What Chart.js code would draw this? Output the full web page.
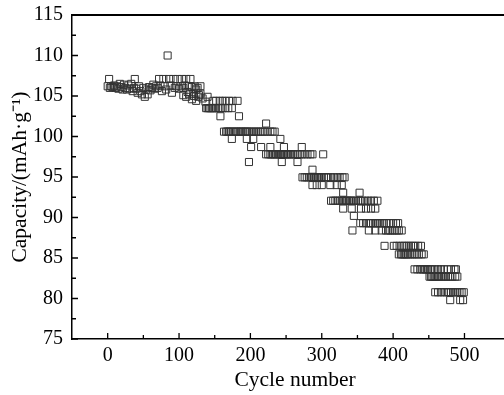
<!DOCTYPE html>
<html>
<head>
<meta charset="utf-8">
<script src="https://cdn.jsdelivr.net/npm/chart.js@4/dist/chart.umd.min.js"></script>
<style>
html,body{margin:0;padding:0;background:#fff;overflow:hidden;}
#wrap{width:524px;height:395px;}
</style>
</head>
<body>
<div id="wrap"><canvas id="c" width="524" height="395"></canvas></div>
<script>
// Cycle numbers and discharge capacities (mAh/g)
const cycle = [
  0,2,3,5,7,9,11,13,15,17,19,21,23,25,27,29,31,33,35,37,38,40,42,44,46,48,50,52,54,56,58,60,62,64,66,68,70,72,74,76,78,80,82,84,86,88,90,92,94,96,98,100,102,104,106,108,110,112,114,116,118,120,122,124,126,128,130,
  106,110,114,118,121,124,127,130,133,137,140,
  148,152,157,161,165,170,175,182,
  138,140,142,144,146,148,150,152,155,158,161,165,169,174,
  158,184,
  163,166,168,170,172,175,178,180,182,185,187,189,192,194,196,199,202,205,208,211,214,217,220,224,228,231,234,
  222,
  174,195,204,242,
  201,215,228,247,272,
  222,225,228,230,232,234,236,239,241,243,245,247,249,251,253,255,257,260,263,266,269,272,276,280,284,287,302,
  198,244,266,
  287,
  273,276,279,282,285,287,289,291,293,295,297,300,303,306,309,313,317,321,325,329,332,
  287,293,300,312,321,328,
  330,353,
  313,316,319,322,325,328,330,332,334,336,338,340,342,345,348,351,354,357,361,365,369,373,378,
  330,342,355,362,369,375,
  345,
  354,358,362,366,369,372,375,377,379,381,384,387,391,395,400,404,407,
  343,366,375,384,390,393,396,399,402,405,408,412,
  388,401,405,409,413,416,419,422,425,428,431,435,439,
  408,411,413,415,417,419,421,424,427,430,433,436,440,443,
  430,434,438,441,443,445,447,449,452,455,459,463,467,471,476,481,486,488,
  451,453,455,457,459,461,463,465,468,471,474,477,480,483,487,490,
  459,463,467,471,475,478,481,484,487,490,493,496,499,
  480,494,498
];
const capacity = [
  106.2,107.1,106.0,106.2,106.1,106.3,106.0,106.2,105.9,106.5,106.1,105.8,106.4,106.0,105.8,106.3,105.9,106.5,105.6,106.0,107.1,105.9,105.4,106.2,105.6,105.2,106.0,104.9,105.8,105.2,106.1,105.7,106.0,106.4,105.9,106.2,106.0,107.1,106.3,105.6,107.1,106.2,105.8,110.0,107.1,106.3,105.4,107.1,106.0,106.2,107.1,105.9,106.2,107.1,106.0,106.3,107.1,105.5,106.2,107.1,106.1,105.3,106.2,105.8,106.0,105.1,106.2,
  105.1,104.9,105.2,104.6,105.0,104.4,104.9,105.3,104.7,104.3,104.9,
  104.4,104.4,104.4,104.4,104.4,104.4,104.4,104.4,
  103.5,103.5,103.5,103.5,103.5,103.5,103.5,103.5,103.5,103.5,103.5,103.5,103.5,103.5,
  102.5,102.5,
  100.6,100.6,100.6,100.6,100.6,100.6,100.6,100.6,100.6,100.6,100.6,100.6,100.6,100.6,100.6,100.6,100.6,100.6,100.6,100.6,100.6,100.6,100.6,100.6,100.6,100.6,100.6,
  101.6,
  99.7,99.7,99.7,99.7,
  98.7,98.7,98.7,98.7,98.7,
  97.8,97.8,97.8,97.8,97.8,97.8,97.8,97.8,97.8,97.8,97.8,97.8,97.8,97.8,97.8,97.8,97.8,97.8,97.8,97.8,97.8,97.8,97.8,97.8,97.8,97.8,97.8,
  96.85,96.85,96.85,
  95.9,
  94.96,94.96,94.96,94.96,94.96,94.96,94.96,94.96,94.96,94.96,94.96,94.96,94.96,94.96,94.96,94.96,94.96,94.96,94.96,94.96,94.96,
  94.0,94.0,94.0,94.0,94.0,94.0,
  93.06,93.06,
  92.07,92.07,92.07,92.07,92.07,92.07,92.07,92.07,92.07,92.07,92.07,92.07,92.07,92.07,92.07,92.07,92.07,92.07,92.07,92.07,92.07,92.07,92.07,
  91.1,91.1,91.1,91.1,91.1,91.1,
  90.2,
  89.3,89.3,89.3,89.3,89.3,89.3,89.3,89.3,89.3,89.3,89.3,89.3,89.3,89.3,89.3,89.3,89.3,
  88.4,88.4,88.4,88.4,88.4,88.4,88.4,88.4,88.4,88.4,88.4,88.4,
  86.5,86.5,86.5,86.5,86.5,86.5,86.5,86.5,86.5,86.5,86.5,86.5,86.5,
  85.45,85.45,85.45,85.45,85.45,85.45,85.45,85.45,85.45,85.45,85.45,85.45,85.45,85.45,
  83.6,83.6,83.6,83.6,83.6,83.6,83.6,83.6,83.6,83.6,83.6,83.6,83.6,83.6,83.6,83.6,83.6,83.6,
  82.7,82.7,82.7,82.7,82.7,82.7,82.7,82.7,82.7,82.7,82.7,82.7,82.7,82.7,82.7,82.7,
  80.77,80.77,80.77,80.77,80.77,80.77,80.77,80.77,80.77,80.77,80.77,80.77,80.77,
  79.8,79.8,79.8
];
const xTicks = [0, 100, 200, 300, 400, 500];
const xMinorTicks = [50, 150, 250, 350, 450];
const yTicks = [75, 80, 85, 90, 95, 100, 105, 110, 115];
const yMinorTicks = [77.5, 82.5, 87.5, 92.5, 97.5, 102.5, 107.5, 112.5];
const xTitle = 'Cycle number';
const yTitle = 'Capacity/(mAh\u00B7g\u207B\u00B9)';

const points = cycle.map((c, i) => ({x: c, y: capacity[i]}));
const FONT = 'Liberation Serif';

const frame = {
  id: 'frame',
  afterDatasetsDraw(chart) {
    const {ctx, chartArea: a, scales: {x, y}} = chart;
    ctx.save();
    ctx.strokeStyle = '#000';
    ctx.lineWidth = 1.3;
    ctx.beginPath();
    xTicks.forEach(v => { const p = x.getPixelForValue(v); ctx.moveTo(p, a.bottom); ctx.lineTo(p, a.bottom - 6); });
    xMinorTicks.forEach(v => { const p = x.getPixelForValue(v); ctx.moveTo(p, a.bottom); ctx.lineTo(p, a.bottom - 4); });
    yTicks.forEach(v => { const p = y.getPixelForValue(v); ctx.moveTo(a.left, p); ctx.lineTo(a.left + 6, p); });
    yMinorTicks.forEach(v => { const p = y.getPixelForValue(v); ctx.moveTo(a.left, p); ctx.lineTo(a.left + 4, p); });
    ctx.stroke();
    ctx.lineWidth = 2;
    ctx.beginPath();
    ctx.moveTo(a.left, a.top);
    ctx.lineTo(a.right, a.top);
    ctx.stroke();
    ctx.restore();
  }
};

new Chart(document.getElementById('c'), {
  type: 'scatter',
  data: {
    datasets: [{
      data: points,
      pointStyle: 'rect',
      pointRadius: 5,
      pointBorderWidth: 1,
      borderColor: '#333',
      backgroundColor: 'rgba(0,0,0,0)',
      showLine: false
    }]
  },
  options: {
    responsive: false,
    animation: false,
    layout: {padding: {left: 0, right: 0, top: 15, bottom: 0}},
    plugins: {legend: {display: false}, tooltip: {enabled: false}},
    scales: {
      x: {
        type: 'linear',
        min: -50, max: 575,
        afterBuildTicks: s => { s.ticks = xTicks.map(v => ({value: v})); },
        afterFit: s => { s.height = 56; s.paddingLeft = 0; s.paddingRight = 0; },
        grid: {display: false, drawTicks: false},
        border: {display: true, color: '#000', width: 1.5},
        ticks: {color: '#000', padding: 5, font: {family: FONT, size: 20}, maxRotation: 0, autoSkip: false},
        title: {display: true, text: xTitle, color: '#000', font: {family: FONT, size: 21.5}, padding: {top: 0, bottom: 2}}
      },
      y: {
        type: 'linear',
        min: 75, max: 115,
        afterBuildTicks: s => { s.ticks = yTicks.map(v => ({value: v})); },
        afterFit: s => { s.width = 72; s.paddingTop = 0; s.paddingBottom = 0; },
        grid: {display: false, drawTicks: false},
        border: {display: true, color: '#000', width: 1.5},
        ticks: {color: '#000', padding: 9, font: {family: FONT, size: 20}, autoSkip: false},
        title: {display: true, text: yTitle, color: '#000', font: {family: FONT, size: 21.5}, padding: {top: 7, bottom: 0}}
      }
    }
  },
  plugins: [frame]
});
</script>
</body>
</html>
